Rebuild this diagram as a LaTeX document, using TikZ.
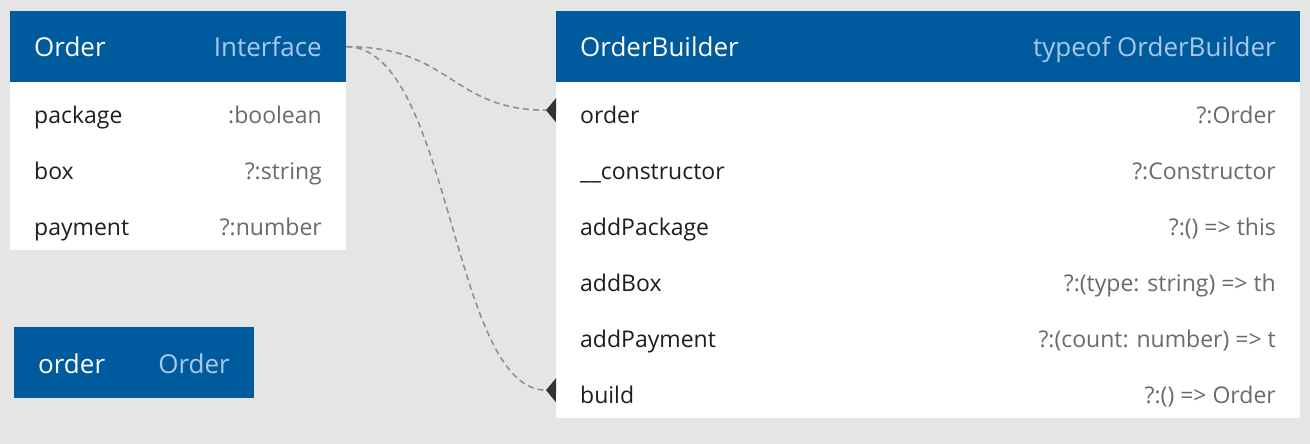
\documentclass[tikz,border=0pt]{standalone}
\usepackage{fontspec}
\setmainfont{Open Sans}
\usetikzlibrary{arrows.meta}
\definecolor{bg}{HTML}{E5E5E5}
\definecolor{hblue}{HTML}{005A9E}
\definecolor{hlight}{HTML}{A9C9EA}
\definecolor{tdark}{HTML}{1E1E1E}
\definecolor{tgray}{HTML}{6A6A6A}
\definecolor{conn}{HTML}{8C8C8C}
\definecolor{tipc}{HTML}{333333}
\begin{document}
\begin{tikzpicture}[x=1pt,y=-1pt,
  hdr/.style={fill=hblue, draw=none, inner sep=0pt, anchor=north west, minimum height=71pt},
  bodybox/.style={fill=white, draw=none, inner sep=0pt, anchor=north west},
  rowbox/.style={draw=none, inner sep=0pt, anchor=north west, minimum height=56pt},
  htitle/.style={text=white, font=\fontsize{26}{30}\selectfont, anchor=base west, inner sep=0pt},
  htype/.style={text=hlight, font=\fontsize{26}{30}\selectfont, anchor=base east, inner sep=0pt},
  fname/.style={text=tdark, font=\fontsize{23}{27}\selectfont, anchor=base west, inner sep=0pt},
  ftype/.style={text=tgray, font=\fontsize{23}{27}\selectfont, anchor=base east, inner sep=0pt},
  link/.style={draw=conn, line width=1.5pt, dash pattern=on 6pt off 4pt, -{Triangle[reversed, length=10pt, width=24pt, fill=tipc, color=tipc, line width=0pt]}}
]
\fill[bg] (0,0) rectangle (1310,444);
\useasboundingbox (0,0) rectangle (1310,444);

% Order interface
\node[hdr, minimum width=336pt] (orderH) at (10,11) {};
\node[bodybox, minimum width=336pt, minimum height=168pt] (orderB) at (10,82) {};
\node[htitle] (orderT) at (34,57) {Order};
\node[htype] (orderK) at (322,57) {Interface};
\node[fname] (o1n) at (34,123) {package};
\node[ftype] (o1t) at (322,123) {:boolean};
\node[fname] (o2n) at (34,179) {box};
\node[ftype] (o2t) at (322,179) {?:string};
\node[fname] (o3n) at (34,235) {payment};
\node[ftype] (o3t) at (322,235) {?:number};

% order variable
\node[hdr, minimum width=240pt] (varH) at (14,327) {};
\node[htitle] (varT) at (38,373) {order};
\node[htype] (varK) at (230,373) {Order};

% OrderBuilder
\node[hdr, minimum width=744pt] (obH) at (556,11) {};
\node[bodybox, minimum width=744pt, minimum height=336pt] (obB) at (556,82) {};
\node[htitle] (obT) at (580,57) {OrderBuilder};
\node[htype] (obK) at (1276,57) {typeof OrderBuilder};
\foreach \i/\n/\t in {0/order/{?:Order}, 1/\_\_constructor/{?:Constructor}, 2/addPackage/{?:() => this}, 3/addBox/{?:(type: string) => th}, 4/addPayment/{?:(count: number) => t}, 5/build/{?:() => Order}} {
  \node[rowbox, minimum width=744pt] (r\i) at (556,82+56*\i) {};
  \node[fname] (r\i n) at (580,123+56*\i) {\n};
  \node[ftype] (r\i t) at (1276,123+56*\i) {\t};
}

% connectors
\draw[link] (orderH.east) .. controls (451,46.5) and (451,110) .. (r0.west);
\draw[link] (orderH.east) .. controls (451,46.5) and (451,390) .. (r5.west);
\end{tikzpicture}
\end{document}
